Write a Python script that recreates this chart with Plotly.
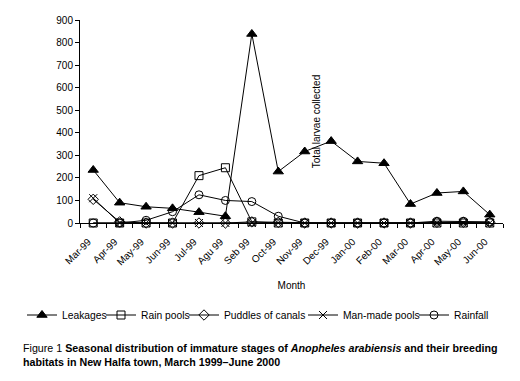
import plotly.graph_objects as go

months = ["Mar-99", "Apr-99", "May-99", "Jun-99", "Jul-99", "Agu 99", "Seb 99", "Oct-99",
          "Nov-99", "Dec-99", "Jan-00", "Feb-00", "Mar-00", "Apr-00", "May-00", "Jun-00"]
leakages = [235, 90, 72, 65, 48, 30, 838, 228, 317, 363, 273, 265, 84, 133, 140, 37]
rain_pools = [0, 0, 0, 0, 210, 245, 5, 0, 0, 0, 0, 0, 0, 0, 0, 0]
puddles = [105, 5, 0, 0, 0, 0, 5, 3, 0, 0, 0, 0, 0, 3, 3, 3]
man_made = [110, 0, 0, 0, 0, 0, 0, 0, 0, 0, 0, 0, 0, 0, 0, 0]
rainfall = [0, 0, 12, 50, 125, 100, 95, 30, 0, 0, 0, 0, 0, 8, 8, 5]
y_ticks = [0, 100, 200, 300, 400, 500, 600, 700, 800, 900]
series_names = ["Leakages", "Rain pools", "Puddles of canals", "Man-made pools", "Rainfall"]

FONT = "Liberation Sans, Arial, sans-serif"
W, H = 520, 381
ML, MR, MT, MB = 80, 17, 20, 158
PW, PH = W - ML - MR, H - MT - MB

# legend entry text start positions (px from left of figure)
legend_text_x = [60, 139, 222, 341, 452]
LEGEND_Y = 315

fig = go.Figure()

specs = [
    (leakages, "triangle-up", 9),
    (rain_pools, "square-open", 8),
    (puddles, "diamond-open", 8),
    (man_made, "x-thin-open", 8),
    (rainfall, "circle-open", 8),
]

for i, (name, (vals, symbol, size)) in enumerate(zip(series_names, specs)):
    lg = "legend" if i == 0 else f"legend{i + 1}"
    fig.add_trace(go.Scatter(
        x=months, y=vals, name=name, mode="lines+markers",
        line=dict(color="black", width=1),
        marker=dict(symbol=symbol, size=size, color="black",
                    line=dict(color="black", width=1)),
        cliponaxis=False, legend=lg,
    ))
    fig.update_layout({lg: dict(
        xref="container", yref="container",
        x=(legend_text_x[i] - 38) / W, xanchor="left",
        y=1 - LEGEND_Y / H, yanchor="middle",
        font=dict(size=10.3), itemwidth=30,
        bgcolor="rgba(0,0,0,0)", borderwidth=0,
    )})

fig.update_layout(
    width=W, height=H,
    margin=dict(l=ML, r=MR, t=MT, b=MB, autoexpand=False),
    paper_bgcolor="white", plot_bgcolor="white",
    font=dict(family=FONT, size=10, color="black"),
    showlegend=True,
    xaxis=dict(
        type="category", range=[-0.5, 15.5], showline=True, linecolor="black", linewidth=1,
        ticks="outside", ticklen=4, tickcolor="black", tickson="boundaries",
        tickangle=-45, showgrid=False, zeroline=False, tickfont=dict(size=10),
        ticklabelstandoff=8, ticklabelshift=-5,
        title=dict(text="Month", font=dict(size=10)),
    ),
    yaxis=dict(
        range=[0, 900], tickvals=y_ticks, showline=True, linecolor="black", linewidth=1,
        ticks="outside", ticklen=4, tickcolor="black", showgrid=False, zeroline=False,
        tickfont=dict(size=10),
        title=dict(text="Total larvae collected", font=dict(size=10)),
    ),
)

fig.add_annotation(
    xref="paper", yref="paper", x=(21 - ML) / PW, y=(H - MB - 340) / PH,
    xanchor="left", yanchor="top",
    align="left", showarrow=False, font=dict(family=FONT, size=10.7, color="black"),
    text="Figure 1 <b>Seasonal distribution of immature stages of <i>Anopheles arabiensis</i> and their breeding</b><br><b>habitats in New Halfa town, March 1999–June 2000</b>",
)

fig.write_html("out.html", config={"displayModeBar": False},
               post_script="document.body.style.margin='0';")
